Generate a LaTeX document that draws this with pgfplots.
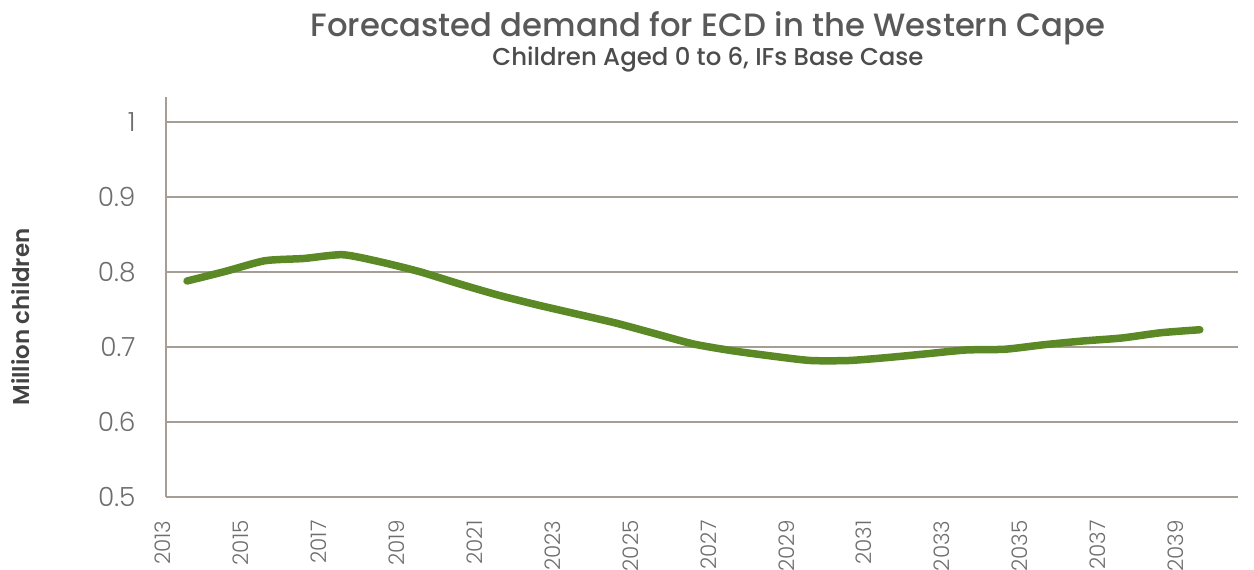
\documentclass[border=0pt]{standalone}
\usepackage{pgfplots}
\pgfplotsset{compat=1.18}
\usepackage{fontspec}
\setmainfont{Poppins}
\newfontfamily\poplight{Poppins Light}
\newfontfamily\popmed{Poppins Medium}
\newfontfamily\popsemi{Poppins SemiBold}
\definecolor{linegreen}{RGB}{91,137,38}
\definecolor{axisgray}{RGB}{166,158,148}
\definecolor{titlegray}{RGB}{89,89,89}
\definecolor{tickgray}{RGB}{110,110,110}

\pgfplotstableread{
year value
2013 0.788
2014 0.801
2015 0.815
2016 0.818
2017 0.823
2018 0.813
2019 0.800
2020 0.784
2021 0.769
2022 0.756
2023 0.744
2024 0.732
2025 0.718
2026 0.704
2027 0.695
2028 0.688
2029 0.682
2030 0.682
2031 0.686
2032 0.691
2033 0.696
2034 0.697
2035 0.703
2036 0.708
2037 0.712
2038 0.719
2039 0.723
}\demand

\begin{document}
\begin{tikzpicture}
\useasboundingbox (0,0) rectangle (1254bp,570bp);
\begin{axis}[
    at={(166bp,73bp)}, anchor=south west,
    scale only axis,
    width=1072bp, height=400bp,
    xmin=2012.46, xmax=2039.98,
    ymin=0.5, ymax=1.0333,
    axis lines=left,
    axis line style={-, draw=axisgray, line width=2.5bp},
    xtick={2013,2015,...,2039},
    ytick={0.5,0.6,0.7,0.8,0.9,1},
    major tick length=0pt,
    ymajorgrids=true,
    grid style={draw=axisgray, line width=1.2bp},
    /pgf/number format/assume math mode=true,
    /pgf/number format/1000 sep={},
    yticklabel style={font=\fontsize{26.5}{30}\selectfont\poplight, text=tickgray, xshift=-27bp},
    xticklabel shift=20bp,
    xticklabel style={font=\fontsize{21.5}{24}\selectfont\poplight, text=tickgray, xshift=-24bp, rotate=90, anchor=east},
    ylabel={Million children},
    every axis y label/.style={at={(axis description cs:-0.136,0.45)}, rotate=90, anchor=center,
        font=\fontsize{23}{26}\selectfont\popsemi, text=titlegray!75!black},
    clip=false,
]
\addplot[color=linegreen, line width=7.5bp, line cap=round, smooth, tension=0.4] table[x=year, y=value] {\demand};
\node[font=\fontsize{32.4}{36}\selectfont\popmed, text=titlegray] at (axis description cs:0.5056,1.1725) {Forecasted demand for ECD in the Western Cape};
\node[font=\fontsize{24.5}{28}\selectfont\popmed, text=titlegray!85!black] at (axis description cs:0.5056,1.095) {Children Aged 0 to 6, IFs Base Case};
\end{axis}
\end{tikzpicture}
\end{document}
